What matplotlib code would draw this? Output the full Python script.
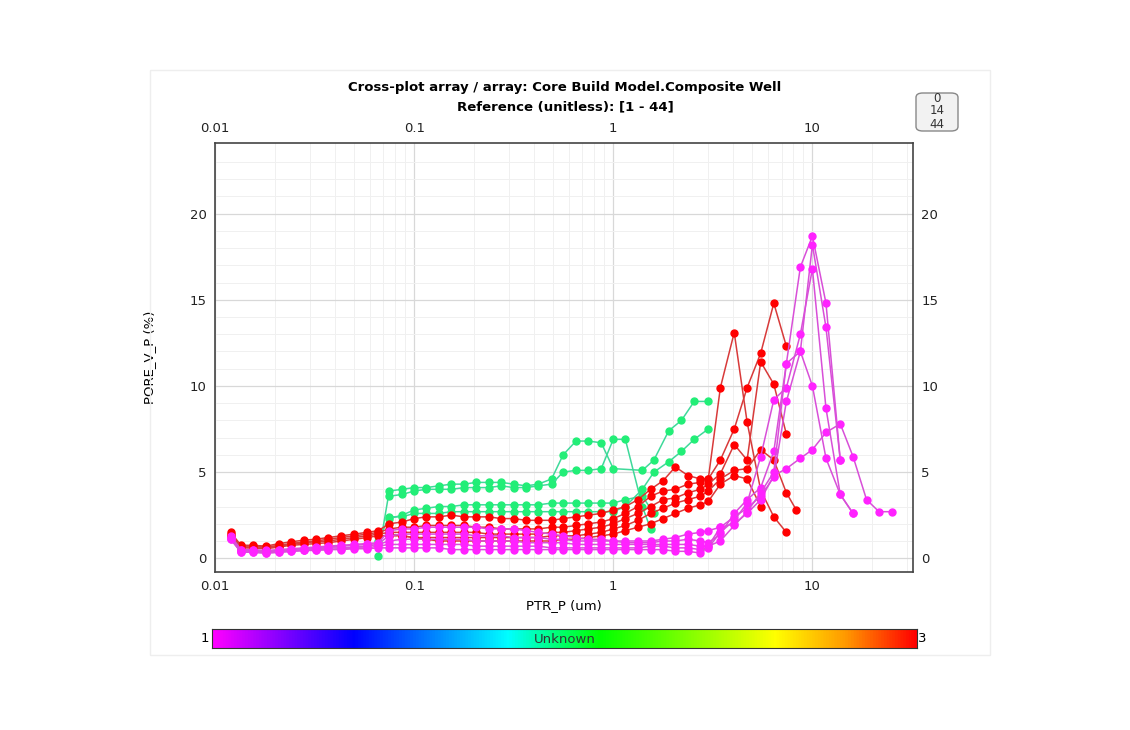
import numpy as np
import matplotlib
matplotlib.use("Agg")
import matplotlib.pyplot as plt
from matplotlib.colors import LinearSegmentedColormap
from matplotlib.patches import FancyBboxPatch, Rectangle
from matplotlib.ticker import LogLocator, FixedLocator, NullFormatter

GRID = [0.012,0.0135,0.0155,0.018,0.021,0.024,0.028,0.032,0.037,0.043,0.05,0.058,0.066,0.075,0.087,0.1,0.115,0.133,0.154,0.178,0.205,0.237,0.274,0.316,0.365,0.42,0.49,0.56,0.65,0.75,0.87,1.0,1.15,1.33,1.54,1.78,2.05,2.37,2.74,3.0]

# green series: (start index in GRID, low values, tail x, tail y)
green_series = [
    (12, [0.1,3.9,4.0,4.1,4.1,4.2,4.3,4.3,4.4,4.4,4.4,4.3,4.2,4.3,4.6,6.0,6.8,6.8,6.7,5.2],
     [1.4,1.6,1.9,2.2,2.55,3.0], [5.1,5.7,7.4,8.0,9.1,9.1]),
    (13, [3.6,3.7,3.9,4.0,4.0,4.0,4.1,4.1,4.1,4.2,4.1,4.1,4.2,4.3,5.0,5.1,5.1,5.2,6.9,6.9],
     [1.4,1.54], [3.0,1.7]),
    (12, [1.0,2.4,2.4,2.6,2.6,2.6,2.7,2.7,2.7,2.7,2.7,2.7,2.7,2.7,2.7,2.7,2.7,2.7,2.7,2.7,3.0],
     [1.4,1.6,1.9,2.2,2.55,3.0], [4.0,5.0,5.6,6.2,6.9,7.5]),
    (13, [2.3,2.5,2.8,2.9,3.0,3.0,3.1,3.1,3.1,3.1,3.1,3.1,3.1,3.2,3.2,3.2,3.2,3.2,3.2,3.4],
     [1.4,1.6], [3.6,2.6]),
]

red_series = [
    (0, [1.5,0.75,0.75,0.7,0.85,0.95,1.05,1.1,1.2,1.3,1.4,1.5,1.6,2.0,2.1,2.3,2.4,2.4,2.5,2.4,2.4,2.4,2.3,2.3,2.2,2.2,2.2,2.3,2.4,2.5,2.6,2.8,3.0,3.4,4.0,4.5,5.3,4.8,4.6,4.6],
     [3.45,4.05,4.7,5.5,6.4,7.4], [9.9,13.1,7.9,3.95,2.4,1.5]),
    (0, [1.4,0.7,0.7,0.65,0.75,0.85,0.95,1.0,1.1,1.2,1.3,1.4,1.5,1.7,1.8,1.8,1.9,1.9,1.9,1.9,1.8,1.8,1.7,1.7,1.7,1.7,1.8,1.8,1.9,2.0,2.1,2.3,2.6,3.0,3.6,3.9,4.0,4.3,4.4,4.6],
     [3.45,4.05,4.7,5.5,6.4,7.4], [5.7,7.5,9.9,11.9,14.8,12.3]),
    (0, [1.3,0.65,0.6,0.6,0.7,0.8,0.9,0.95,1.0,1.1,1.2,1.3,1.4,1.5,1.5,1.5,1.5,1.5,1.5,1.5,1.5,1.4,1.4,1.4,1.4,1.4,1.5,1.5,1.6,1.7,1.8,2.0,2.3,2.6,3.0,3.4,3.5,3.8,4.0,4.3],
     [3.45,4.05,4.7,5.5,6.4,7.4], [4.9,6.6,5.7,11.4,10.1,7.2]),
    (0, [1.3,0.6,0.6,0.55,0.65,0.75,0.8,0.85,0.9,1.0,1.1,1.2,1.3,1.3,1.3,1.2,1.2,1.2,1.2,1.2,1.2,1.2,1.2,1.2,1.2,1.2,1.3,1.3,1.3,1.4,1.5,1.7,1.9,2.2,2.6,2.9,3.2,3.4,3.6,3.9],
     [3.45,4.05,4.7,5.5,6.4,7.4,8.3], [4.6,5.1,5.2,6.3,5.7,3.8,2.8]),
    (13, [1.4,1.3,1.2,1.1,1.0,1.0,1.0,1.0,1.0,1.0,1.0,1.0,1.0,1.0,1.1,1.1,1.2,1.3,1.4,1.6,1.8,2.0,2.3,2.6,2.9,3.1,3.3],
     [3.45,4.05,4.7,5.5], [4.3,4.8,4.6,3.0]),
]

magenta_series = [
    (0, [1.3,0.5,0.5,0.45,0.5,0.55,0.6,0.65,0.7,0.75,0.8,0.85,0.9,1.6,1.7,1.7,1.8,1.8,1.8,1.8,1.8,1.7,1.7,1.7,1.6,1.5,1.4,1.3,1.2,1.1,1.1,1.0,1.0,1.0,1.0,1.1,1.2,1.4,1.5,1.6],
     [3.45,4.05,4.7,5.5,6.4,7.4,8.7,10,11.7,13.8,16,18.7,21.6,25], [1.8,2.0,2.6,3.4,4.8,5.2,5.8,6.3,7.3,7.8,5.9,3.4,2.7,2.7]),
    (0, [1.2,0.45,0.45,0.4,0.45,0.5,0.55,0.6,0.65,0.7,0.75,0.8,0.85,1.3,1.4,1.4,1.4,1.4,1.4,1.4,1.3,1.3,1.3,1.2,1.2,1.2,1.1,1.1,1.0,1.0,1.0,1.0,0.9,0.9,0.9,1.0,1.0,1.1,1.0,0.9],
     [3.45,4.05,4.7,5.5,6.4,7.4,8.7,10,11.7,13.8], [1.4,2.6,3.4,4.1,6.2,11.3,16.9,18.7,14.8,5.7]),
    (0, [1.2,0.4,0.4,0.35,0.4,0.45,0.5,0.55,0.6,0.6,0.65,0.7,0.8,1.0,1.1,1.1,1.1,1.1,1.1,1.1,1.0,1.0,1.0,1.0,0.9,0.9,0.9,0.9,0.8,0.8,0.8,0.8,0.8,0.8,0.8,0.8,0.8,0.8,0.7,0.7],
     [3.45,4.05,4.7,5.5,6.4,7.4,8.7,10,11.7,13.8], [1.8,2.4,2.9,3.6,4.7,9.1,12.0,18.2,13.4,5.7]),
    (0, [1.1,0.35,0.35,0.3,0.35,0.4,0.45,0.5,0.5,0.55,0.6,0.6,0.7,0.8,0.8,0.8,0.8,0.8,0.8,0.8,0.7,0.7,0.7,0.7,0.7,0.7,0.6,0.6,0.6,0.6,0.6,0.6,0.6,0.6,0.7,0.7,0.6,0.6,0.5,0.6],
     [3.45,4.05,4.7,5.5,6.4,7.4,8.7,10,11.7,13.8,16.0], [1.5,2.2,3.2,5.9,9.2,9.9,13.0,16.8,8.7,3.7,2.6]),
    (0, [1.1,0.35,0.35,0.3,0.35,0.4,0.45,0.45,0.5,0.5,0.55,0.55,0.6,0.6,0.6,0.6,0.6,0.6,0.5,0.5,0.5,0.5,0.5,0.5,0.5,0.5,0.5,0.5,0.5,0.5,0.5,0.5,0.5,0.5,0.5,0.5,0.4,0.4,0.3,0.7],
     [3.45,4.05,4.7,5.5,6.4,7.4,8.7,10,11.7,13.8,16.0], [1.0,1.9,2.7,3.8,5.0,11.3,12.0,10.0,5.8,3.7,2.6]),
]

x_ticks = [0.01, 0.1, 1, 10]
x_tick_labels = ["0.01", "0.1", "1", "10"]
y_ticks = [0, 5, 10, 15, 20]

fig = plt.figure(figsize=(11.3, 7.3), dpi=100)
fig.patches.append(Rectangle((150/1130, 1-655/730), 840/1130, 585/730, transform=fig.transFigure,
                             fill=False, edgecolor='#eeeeee', lw=1))
ax = fig.add_axes([215/1130, 1-572/730, 698/1130, 429/730])
ax.set_xscale('log')
ax.set_xlim(0.01, 32)
ax.set_ylim(-0.8, 24.1)

def draw(series, lc, mc, ms):
    for start, low, tx, ty in series:
        xs = GRID[start:start+len(low)] + tx
        ys = low + ty
        ax.plot(xs, ys, '-', color=lc, lw=1.1, marker='o', ms=ms, mfc=mc, mec=mc, zorder=3)

draw(green_series, '#3fd99a', '#22ee77', 5)
draw(red_series, '#d83a3a', '#ff0000', 5)
draw(magenta_series, '#d84fd8', '#ff22ff', 5)

ax.set_xticks(x_ticks)
ax.set_xticklabels(x_tick_labels)
ax.xaxis.set_minor_locator(LogLocator(base=10, subs=np.arange(2, 10)))
ax.xaxis.set_minor_formatter(NullFormatter())
ax.set_yticks(y_ticks)
ax.yaxis.set_minor_locator(FixedLocator(np.arange(0, 24, 1)))
ax.grid(True, which='major', color='#d8d8d8', lw=0.9)
ax.grid(True, which='minor', color='#f0f0f0', lw=0.7)
ax.tick_params(which='both', length=0, labelsize=9.5, colors='#222222',
               top=True, right=True, labeltop=True, labelright=True, pad=6)
for s in ax.spines.values():
    s.set_color('#444444')
    s.set_linewidth(1.2)

ax.set_xlabel('PTR_P (um)', fontsize=9.5, labelpad=4)
ax.set_ylabel('PORE_V_P (%)', fontsize=9.5, labelpad=24)

fig.text(565/1130, 1-87/730, 'Cross-plot array / array: Core Build Model.Composite Well',
         ha='center', va='center', fontsize=9.5, fontweight='bold')
fig.text(565/1130, 1-107/730, 'Reference (unitless): [1 - 44]',
         ha='center', va='center', fontsize=9.5, fontweight='bold')

# small reference box
box = FancyBboxPatch((916/1130, 1-131/730), 42/1130, 38/730, boxstyle='round,pad=0,rounding_size=0.006',
                     transform=fig.transFigure, facecolor='#f2f2f2', edgecolor='#888888', lw=1)
fig.patches.append(box)
for t, yy in zip(["0", "14", "44"], [98, 111, 124]):
    fig.text(937/1130, 1-yy/730, t, ha='center', va='center', fontsize=8.5, color='#333333')

# colorbar
cmap = LinearSegmentedColormap.from_list('pv', [(0, '#ff00ff'), (0.2, '#0000ff'), (0.42, '#00ffff'),
                                                (0.55, '#00ff00'), (0.8, '#ffff00'), (0.9, '#ff9900'), (1, '#ff0000')])
cax = fig.add_axes([212/1130, 1-648/730, 705/1130, 19/730])
cax.imshow(np.linspace(0, 1, 512)[None, :], aspect='auto', cmap=cmap, extent=[0, 1, 0, 1])
cax.set_xticks([]); cax.set_yticks([])
for s in cax.spines.values():
    s.set_color('#333333')
cax.text(0.5, 0.45, 'Unknown', ha='center', va='center', fontsize=9.5, color='#333333', transform=cax.transAxes)
fig.text(205/1130, 1-639/730, '1', ha='center', va='center', fontsize=9.5)
fig.text(922/1130, 1-639/730, '3', ha='center', va='center', fontsize=9.5)

fig.savefig('out.png', dpi=100, facecolor='white')
